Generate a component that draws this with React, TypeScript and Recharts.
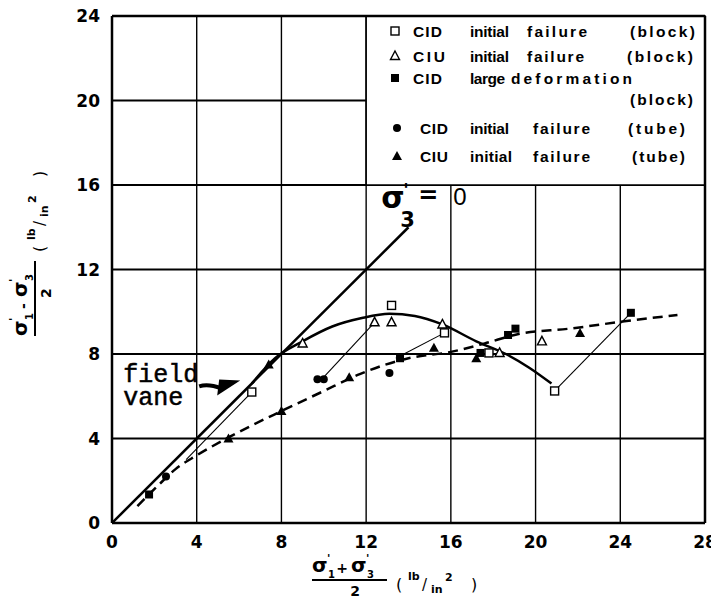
import {
  ComposedChart,
  Line,
  Scatter,
  XAxis,
  YAxis,
  CartesianGrid,
  ReferenceArea,
  ReferenceLine,
  ReferenceDot,
  Legend,
} from 'recharts'

// axes (lb/in²)
const X_TICKS = [0, 4, 8, 12, 16, 20, 24, 28]
const Y_TICKS = [0, 4, 8, 12, 16, 20, 24]

// test points: x = (σ1'+σ3')/2, y = (σ1'-σ3')/2
const CID_BLOCK_X = [6.6, 13.2, 15.7, 17.8, 20.9]
const CID_BLOCK_Y = [6.2, 10.3, 9.0, 8.05, 6.25]
const CIU_BLOCK_X = [9.0, 12.4, 13.2, 15.6, 18.3, 20.3]
const CIU_BLOCK_Y = [8.5, 9.5, 9.5, 9.4, 8.05, 8.6]
const CID_LARGE_X = [1.75, 13.6, 17.4, 18.7, 19.05, 24.5]
const CID_LARGE_Y = [1.35, 7.8, 8.05, 8.9, 9.2, 9.95]
const CID_TUBE_X = [2.55, 9.7, 10.0, 13.1]
const CID_TUBE_Y = [2.2, 6.8, 6.8, 7.1]
const CIU_TUBE_X = [5.5, 7.4, 8.0, 11.2, 15.2, 17.2, 22.1]
const CIU_TUBE_Y = [4.0, 7.5, 5.3, 6.9, 8.3, 7.8, 9.0]

// σ3' = 0 line
const ZERO_X = [0, 14]
const ZERO_Y = [0, 14]

// solid envelope (block)
const ENVELOPE_X = [6.6, 7.7, 9.0, 10.4, 11.8, 13.1, 14.3, 15.6, 17.2, 18.6, 19.7, 20.75]
const ENVELOPE_Y = [6.6, 7.8, 8.6, 9.3, 9.7, 9.9, 9.8, 9.4, 8.6, 8.0, 7.35, 6.6]

// dashed trend (tube / large deformation)
const TREND_X = [1.2, 2.2, 3.0, 4.0, 5.5, 8.0, 9.9, 11.7, 14.0, 16.0, 17.6, 19.2, 21.6, 24.2, 26.7]
const TREND_Y = [0.8, 1.8, 2.55, 3.2, 4.05, 5.3, 6.2, 7.05, 7.8, 8.1, 8.5, 8.95, 9.2, 9.55, 9.85]

// thin lines joining points of single tests
const PATH_A_X = [3.5, 6.6]
const PATH_A_Y = [3.0, 6.2]
const PATH_B_X = [9.9, 12.4]
const PATH_B_Y = [6.8, 9.5]
const PATH_C_X = [13.4, 15.7]
const PATH_C_Y = [7.8, 9.0]
const PATH_D_X = [20.9, 24.5]
const PATH_D_Y = [6.25, 9.95]

const pts = (xs: number[], ys: number[]) => xs.map((x, i) => ({ x, y: ys[i] }))

const FONT = "'DejaVu Sans', sans-serif"

const OpenSquare = ({ cx, cy }: any) => (
  <rect x={cx - 4} y={cy - 4} width={8} height={8} fill="#fff" stroke="#000" strokeWidth={1.4} />
)
const OpenTriangle = ({ cx, cy }: any) => (
  <polygon
    points={`${cx},${cy - 5} ${cx + 4.5},${cy + 3.5} ${cx - 4.5},${cy + 3.5}`}
    fill="#fff"
    stroke="#000"
    strokeWidth={1.4}
  />
)
const FilledSquare = ({ cx, cy }: any) => (
  <rect x={cx - 4} y={cy - 4} width={8} height={8} fill="#000" />
)
const FilledCircle = ({ cx, cy }: any) => <circle cx={cx} cy={cy} r={4} fill="#000" />
const FilledTriangle = ({ cx, cy }: any) => (
  <polygon points={`${cx},${cy - 5} ${cx + 5},${cy + 4} ${cx - 5},${cy + 4}`} fill="#000" />
)

function Word({ x, y, w, children }: { x: number; y: number; w: number; children: string }) {
  return (
    <text
      x={x}
      y={y}
      textLength={w}
      lengthAdjust="spacing"
      fontSize={15.5}
      fontWeight="bold"
      fontFamily="'Liberation Sans', sans-serif"
      fill="#000"
    >
      {children}
    </text>
  )
}

function LegendBox() {
  return (
    <svg width={711} height={593} style={{ display: 'block', overflow: 'visible' }}>
      {OpenSquare({ cx: 387, cy: 23 })}
      <Word x={405} y={29} w={29}>CID</Word>
      <Word x={462} y={29} w={39}>initial</Word>
      <Word x={519} y={29} w={60}>failure</Word>
      <Word x={622} y={29} w={65}>(block)</Word>

      {OpenTriangle({ cx: 387, cy: 48 })}
      <Word x={405} y={54} w={32}>CIU</Word>
      <Word x={462} y={54} w={39}>initial</Word>
      <Word x={519} y={54} w={57}>failure</Word>
      <Word x={619} y={54} w={66}>(block)</Word>

      {FilledSquare({ cx: 387, cy: 70 })}
      <Word x={405} y={76} w={29}>CID</Word>
      <Word x={462} y={76} w={35}>large</Word>
      <Word x={503} y={76} w={121}>deformation</Word>
      <Word x={622} y={97} w={63}>(block)</Word>

      {FilledCircle({ cx: 389, cy: 120 })}
      <Word x={412} y={126} w={28}>CID</Word>
      <Word x={462} y={126} w={39}>initial</Word>
      <Word x={525} y={126} w={57}>failure</Word>
      <Word x={620} y={126} w={57}>(tube)</Word>

      {FilledTriangle({ cx: 389, cy: 148 })}
      <Word x={412} y={154} w={28}>CIU</Word>
      <Word x={462} y={154} w={42}>initial</Word>
      <Word x={525} y={154} w={57}>failure</Word>
      <Word x={624} y={154} w={53}>(tube)</Word>
    </svg>
  )
}

// fraction title drawn around the fraction bar at (0,0)
function FractionTitle({ op }: { op: string }) {
  const t = { fontFamily: FONT, fontWeight: 'bold' as const, fill: '#000' }
  return (
    <g>
      <text x={-38} y={-8} fontSize={20} {...t}>σ</text>
      <text x={-23} y={-18} fontSize={11} {...t}>'</text>
      <text x={-22} y={-2} fontSize={10} {...t}>1</text>
      <text x={-8} y={-7} fontSize={14} textAnchor="middle" {...t}>{op}</text>
      <text x={1} y={-8} fontSize={20} {...t}>σ</text>
      <text x={16} y={-18} fontSize={11} {...t}>'</text>
      <text x={17} y={-2} fontSize={10} {...t}>3</text>
      <line x1={-38} y1={0} x2={37} y2={0} stroke="#000" strokeWidth={2} />
      <text x={5} y={16} fontSize={14} textAnchor="middle" {...t}>2</text>
      <text x={46} y={10} fontSize={16} {...t} fontWeight="normal">(</text>
      <text x={58} y={0} fontSize={11} {...t}>lb</text>
      <text x={72} y={10} fontSize={15} {...t} fontWeight="normal">/</text>
      <text x={81} y={13} fontSize={11} {...t}>in</text>
      <text x={95} y={1} fontSize={11} {...t}>2</text>
      <text x={121} y={10} fontSize={16} {...t} fontWeight="normal">)</text>
    </g>
  )
}

const XAxisTitle = () => (
  <g transform="translate(342,572)">
    <FractionTitle op="+" />
  </g>
)

const YAxisTitle = () => (
  <g transform="translate(27,290) rotate(-90)">
    <FractionTitle op="-" />
  </g>
)

const ZeroLabel = ({ cx, cy }: any) => (
  <g fontFamily={FONT} fill="#000">
    <text x={cx - 6} y={cy + 2} fontSize={30} fontWeight="bold">σ</text>
    <text x={cx + 16} y={cy - 10} fontSize={18} fontWeight="bold">'</text>
    <text x={cx + 13} y={cy + 21} fontSize={21} fontWeight="bold">3</text>
    <text x={cx + 31} y={cy - 3} fontSize={24} fontWeight="bold">=</text>
    <text x={cx + 66} y={cy - 1} fontSize={24} fontFamily="'Liberation Sans', sans-serif">0</text>
  </g>
)

const FieldVane = ({ cx, cy }: any) => (
  <g>
    <text x={cx - 118} y={cy + 1} fontSize={25} fontFamily="'Liberation Mono', monospace" fill="#000" stroke="#000" strokeWidth={0.5}>
      field
    </text>
    <text x={cx - 118} y={cy + 24} fontSize={25} fontFamily="'Liberation Mono', monospace" fill="#000" stroke="#000" strokeWidth={0.5}>
      vane
    </text>
    <path d={`M ${cx - 42} ${cy + 5} Q ${cx - 33} ${cy + 2} ${cx - 20} ${cy + 7}`} stroke="#000" strokeWidth={4} fill="none" />
    <polygon points={`${cx - 1},${cy - 1} ${cx - 22},${cy - 2} ${cx - 24},${cy + 14}`} fill="#000" />
  </g>
)

const tickStyle = { fill: '#000', fontSize: 17, fontWeight: 'bold', fontFamily: FONT }

export default function App() {
  return (
    <div style={{ width: 711, height: 593, position: 'relative', fontFamily: FONT }}>
      <ComposedChart
        width={711}
        height={593}
        margin={{ top: 8, right: 14, bottom: 0, left: 0 }}
        style={{ overflow: 'visible' }}
      >
        <CartesianGrid stroke="#000" strokeWidth={2} vertical={false} />
        <CartesianGrid stroke="#000" strokeWidth={1.4} horizontal={false} />
        <XAxis
          type="number"
          dataKey="x"
          domain={[0, 28]}
          ticks={X_TICKS}
          interval={0}
          allowDataOverflow
          height={78}
          tickLine={false}
          tickMargin={7}
          axisLine={{ stroke: '#000', strokeWidth: 2.5 }}
          tick={tickStyle}
          label={<XAxisTitle />}
        />
        <YAxis
          type="number"
          dataKey="y"
          domain={[0, 24]}
          ticks={Y_TICKS}
          interval={0}
          allowDataOverflow
          width={104}
          tickLine={false}
          tickMargin={6}
          axisLine={{ stroke: '#000', strokeWidth: 2.5 }}
          tick={tickStyle}
          label={<YAxisTitle />}
        />
        <ReferenceArea x1={12} x2={28} y1={16} y2={24} fill="#fff" fillOpacity={1} stroke="#000" strokeWidth={1.6} />
        <ReferenceLine x={28} stroke="#000" strokeWidth={2.5} />
        <ReferenceLine y={24} stroke="#000" strokeWidth={2.5} />

        <Line data={pts(ZERO_X, ZERO_Y)} dataKey="y" type="linear" stroke="#000" strokeWidth={2.5} dot={false} activeDot={false} legendType="none" isAnimationActive={false} />
        <Line data={pts(ENVELOPE_X, ENVELOPE_Y)} dataKey="y" type="monotone" stroke="#000" strokeWidth={2.5} dot={false} activeDot={false} legendType="none" isAnimationActive={false} />
        <Line data={pts(TREND_X, TREND_Y)} dataKey="y" type="monotone" stroke="#000" strokeWidth={2.5} strokeDasharray="10 6" dot={false} activeDot={false} legendType="none" isAnimationActive={false} />
        <Line data={pts(PATH_A_X, PATH_A_Y)} dataKey="y" type="linear" stroke="#000" strokeWidth={1.1} dot={false} activeDot={false} legendType="none" isAnimationActive={false} />
        <Line data={pts(PATH_B_X, PATH_B_Y)} dataKey="y" type="linear" stroke="#000" strokeWidth={1.1} dot={false} activeDot={false} legendType="none" isAnimationActive={false} />
        <Line data={pts(PATH_C_X, PATH_C_Y)} dataKey="y" type="linear" stroke="#000" strokeWidth={1.1} dot={false} activeDot={false} legendType="none" isAnimationActive={false} />
        <Line data={pts(PATH_D_X, PATH_D_Y)} dataKey="y" type="linear" stroke="#000" strokeWidth={1.1} dot={false} activeDot={false} legendType="none" isAnimationActive={false} />

        <Scatter name="CID initial failure (block)" data={pts(CID_BLOCK_X, CID_BLOCK_Y)} shape={OpenSquare} isAnimationActive={false} />
        <Scatter name="CIU initial failure (block)" data={pts(CIU_BLOCK_X, CIU_BLOCK_Y)} shape={OpenTriangle} isAnimationActive={false} />
        <Scatter name="CID large deformation (block)" data={pts(CID_LARGE_X, CID_LARGE_Y)} shape={FilledSquare} isAnimationActive={false} />
        <Scatter name="CID initial failure (tube)" data={pts(CID_TUBE_X, CID_TUBE_Y)} shape={FilledCircle} isAnimationActive={false} />
        <Scatter name="CIU initial failure (tube)" data={pts(CIU_TUBE_X, CIU_TUBE_Y)} shape={FilledTriangle} isAnimationActive={false} />

        <ReferenceDot x={13} y={15} r={0} shape={ZeroLabel} ifOverflow="visible" />
        <ReferenceDot x={6.1} y={6.7} r={0} shape={FieldVane} ifOverflow="visible" />

        <Legend
          layout="horizontal"
          verticalAlign="middle"
          align="center"
          content={<LegendBox />}
          wrapperStyle={{ position: 'absolute', left: 0, top: 0, width: 711, height: 593, pointerEvents: 'none' }}
        />
      </ComposedChart>
    </div>
  )
}
